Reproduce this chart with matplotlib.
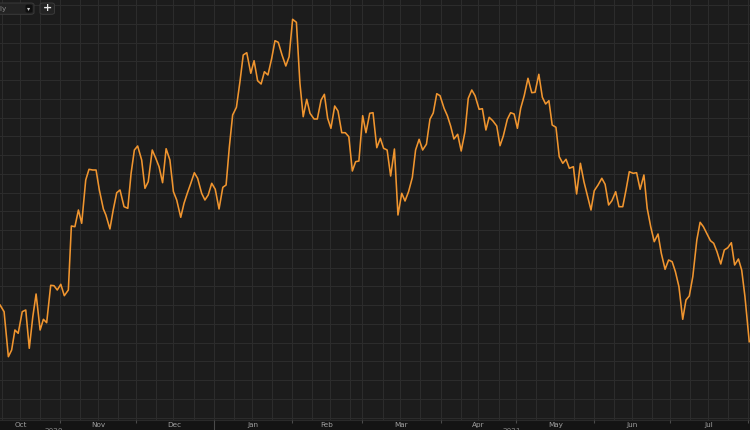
import matplotlib
matplotlib.use("Agg")
import matplotlib.pyplot as plt
import matplotlib.dates as mdates
from matplotlib.patches import FancyBboxPatch
import numpy as np
import pandas as pd

# ---------------- data ----------------
# x: days since 2020-10-01, y: price level (arbitrary units, no axis shown)
day_offset = [
    7.2, 8.8, 10.5, 11.8, 13.1, 14.4, 16.0, 17.4, 18.8, 20.2,
    21.5, 23.1, 24.4, 25.7, 27.3, 28.6, 29.9, 31.3, 32.7, 34.3,
    35.5, 36.9, 38.3, 39.6, 41.2, 42.5, 44.0, 45.3, 46.6, 48.2,
    49.2, 50.8, 52.1, 53.5, 54.8, 56.4, 57.9, 59.2, 60.5, 61.8,
    63.4, 64.7, 66.0, 67.6, 69.0, 70.3, 71.7, 73.1, 74.6, 76.0,
    77.3, 78.9, 80.2, 81.5, 82.9, 84.3, 85.6, 87.2, 88.5, 89.8,
    91.2, 92.6, 94.1, 95.6, 96.9, 98.2, 99.5, 101.0, 102.4, 103.7,
    105.1, 106.7, 108.0, 109.4, 110.8, 112.1, 113.5, 115.0, 116.3, 117.6,
    119.1, 120.6, 121.9, 123.3, 124.8, 126.2, 127.5, 128.9, 130.2, 131.8,
    133.1, 134.6, 135.9, 137.2, 138.5, 140.0, 141.3, 142.8, 144.2, 145.6,
    147.0, 148.3, 149.6, 151.1, 152.4, 153.9, 155.2, 156.7, 158.1, 159.4,
    160.8, 162.2, 163.7, 165.1, 166.6, 167.9, 169.3, 170.8, 172.1, 173.5,
    174.9, 176.4, 177.8, 179.1, 180.5, 181.8, 183.4, 184.7, 186.0, 187.3,
    188.8, 190.2, 191.7, 193.0, 194.4, 195.7, 197.3, 198.6, 200.0, 201.3,
    202.7, 204.3, 205.6, 206.9, 208.5, 209.8, 211.2, 212.5, 213.8, 215.2,
    216.7, 218.2, 219.5, 221.0, 222.4, 223.7, 225.0, 226.3, 227.8, 229.1,
    230.5, 231.8, 233.1, 234.7, 236.0, 237.5, 238.9, 240.2, 241.7, 243.0,
    244.5, 246.0, 247.3, 248.7, 250.0, 251.5, 252.8, 254.3, 255.6, 256.9,
    258.4, 259.8, 261.2, 262.7, 264.0, 265.4, 266.8, 268.3, 269.6, 271.1,
    272.5, 273.9, 275.2, 276.6, 278.1, 279.4, 280.7, 282.1, 283.7, 285.0,
    286.3, 287.6, 289.1, 290.4, 291.7, 293.2, 294.6, 296.0, 297.4, 298.7,
    300.2, 301.5, 302.8, 304.5,
]
values = [
    115, 108.3, 63.3, 70, 90, 86.7, 108.3, 110, 71.7, 103.3,
    126, 90, 100.7, 97.3, 134.7, 134.3, 130, 135.7, 124.3, 130,
    194, 193.3, 210, 196.7, 240, 250.7, 250, 250, 230, 211,
    205, 191, 210, 227.3, 230, 213.3, 211.7, 246.7, 270, 274,
    260, 231.7, 238.3, 270, 261.7, 253.3, 237.3, 271.3, 260, 228.3,
    220, 202.7, 216.7, 226.7, 236.7, 247.3, 241.7, 226.7, 220, 225,
    236.7, 230.7, 211, 232.7, 235, 273.3, 305, 312.7, 338.3, 365,
    367.3, 346.7, 359.3, 339.3, 336, 348.3, 345, 361.7, 379.3, 377.7,
    365, 354, 363.3, 400.7, 397.7, 336.7, 303.3, 320.7, 306.7, 301,
    301, 320, 325.7, 301.7, 291.7, 314, 309, 287.3, 287.3, 283.3,
    249, 258.3, 259, 304.3, 287.3, 306.7, 307.3, 272.3, 281.7, 271.7,
    270, 244, 271, 205, 226.7, 219, 228.3, 242.5, 270, 280.7,
    270, 275.8, 300.8, 307, 326.3, 324.3, 311.7, 304.3, 294, 281,
    285.7, 269, 288.3, 321.7, 330, 324.3, 310.7, 311.3, 290, 302.7,
    299.3, 294, 274.3, 284, 300.7, 307.3, 306, 291.7, 311.7, 324.3,
    341.7, 327.3, 327.7, 345.7, 322.7, 316, 319.3, 295, 292.7, 263.3,
    256.7, 260.7, 251.7, 253.3, 226, 256.7, 238.3, 225, 210, 229.3,
    235, 241.7, 235.7, 215, 219.3, 228.3, 213.3, 213.3, 230, 248.3,
    246.7, 247.3, 230.7, 245, 211.7, 193.3, 178.3, 186, 166.7, 150.7,
    160, 158.3, 148.3, 133.3, 100.7, 120, 124, 143.3, 180, 197.7,
    193.3, 186.7, 179.3, 176.7, 168.3, 156, 170, 172.3, 177.3, 155,
    161, 150, 123.3, 78.3,
]
month_labels = ["Oct", "Nov", "Dec", "Jan", "Feb", "Mar", "Apr", "May", "Jun", "Jul"]
year_labels = ["2020", "2021"]

# ---------------- styling ----------------
BG = "#1c1c1c"
BAND = "#141414"
GRID = "#2c2c2c"
LINE = "#f0952f"
TXT = "#a0a0a0"

W, H = 750, 430
BAND_H = 10
fig = plt.figure(figsize=(W / 100, H / 100), dpi=100)
fig.patch.set_facecolor(BAND)

ax = fig.add_axes([0, BAND_H / H, 1, (H - BAND_H) / H])
axb = fig.add_axes([0, 0, 1, BAND_H / H])

base = pd.Timestamp("2020-10-01")
dates = base + pd.to_timedelta(day_offset, unit="D")
xd = mdates.date2num(dates)

x0 = mdates.date2num(base + pd.Timedelta(days=7.18))
x1 = mdates.date2num(base + pd.Timedelta(days=304.8))

ax.set_facecolor(BG)
ax.plot(xd, values, color=LINE, lw=1.15, solid_joinstyle="round", zorder=3)

# grid: horizontal every 18.75 units, vertical at days 1, 9, 16, 24 of each month
hgrid = np.arange(265 - 18.75 * 14, 420, 18.75)
hgrid = hgrid[(hgrid > 0) & (hgrid < 420)]
months = pd.date_range("2020-10-01", "2021-08-01", freq="MS")
vgrid = []
for m in months:
    for d in (1, 9, 16, 24):
        vgrid.append(mdates.date2num(m + pd.Timedelta(days=d - 1)))
ax.set_yticks(hgrid)
ax.set_xticks(vgrid)
ax.grid(True, color=GRID, lw=0.75, zorder=0)
ax.tick_params(length=0, labelbottom=False, labelleft=False)
for s in ax.spines.values():
    s.set_visible(False)
ax.set_xlim(x0, x1)
ax.set_ylim(0, 420)

# bottom axis band
axb.set_facecolor(BAND)
axb.set_xticks([])
axb.set_yticks([])
for s in axb.spines.values():
    s.set_visible(False)
axb.axhline(10, color="#2a2a2a", lw=0.8)
for m in months:
    xm = mdates.date2num(m)
    if m.month == 1:
        axb.vlines(xm, 0, 10, color="#4a4a4a", lw=0.8)
    else:
        axb.vlines(xm, 7.2, 10, color="#4a4a4a", lw=0.8)
for m, lab in zip(months[:-1], month_labels):
    mid = mdates.date2num(m + pd.Timedelta(days=m.days_in_month / 2))
    axb.text(mid, 5.2, lab, color=TXT, fontsize=5.2, ha="center", va="center",
             family="DejaVu Sans")
# year labels, mostly below the visible strip
for yl, dd in zip(year_labels, [28.6, 210.4]):
    axb.text(mdates.date2num(base + pd.Timedelta(days=dd)), 2.2, yl, color="#8a8a8a",
             fontsize=5.2, ha="center", va="top", clip_on=True)
axb.set_xlim(x0, x1)
axb.set_ylim(0, 10)

# top-left controls
def fx(px):
    return px / W

def fy(py):
    return 1 - py / H

box = FancyBboxPatch((fx(-6), fy(14.3)), fx(40), (11.3) / H,
                     boxstyle="round,pad=0,rounding_size=0.004",
                     transform=fig.transFigure, facecolor="#232323",
                     edgecolor="#3a3a3a", lw=0.7, zorder=10)
fig.patches.append(box)
arrow_bg = FancyBboxPatch((fx(25.5), fy(12.6)), fx(7), 8 / H,
                          boxstyle="round,pad=0,rounding_size=0.003",
                          transform=fig.transFigure, facecolor="#0f0f0f",
                          edgecolor="none", zorder=11)
fig.patches.append(arrow_bg)
fig.text(fx(29), fy(8.6), "\u25be", color="#d0d0d0", fontsize=4.5,
         ha="center", va="center", zorder=12)
fig.text(fx(6.5), fy(8.6), "Daily", color="#8a8a8a", fontsize=5.2,
         ha="right", va="center", zorder=12)
plus = FancyBboxPatch((fx(40), fy(14.3)), fx(14.5), 11.3 / H,
                      boxstyle="round,pad=0,rounding_size=0.004",
                      transform=fig.transFigure, facecolor="#232323",
                      edgecolor="#3a3a3a", lw=0.7, zorder=10)
fig.patches.append(plus)
fig.text(fx(47.2), fy(8.4), "+", color="#e8e8e8", fontsize=8, fontweight="bold",
         ha="center", va="center", zorder=12)

fig.savefig("out.png", dpi=100, facecolor=fig.get_facecolor())
